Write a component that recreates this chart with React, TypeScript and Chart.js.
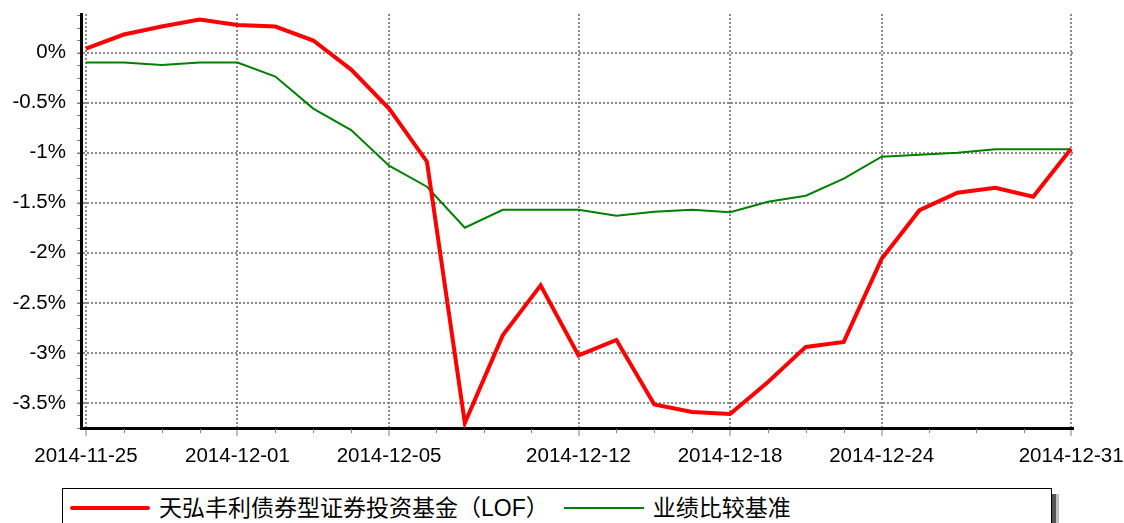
import React, { useEffect, useLayoutEffect, useRef } from 'react';
import { Chart, registerables } from 'chart.js';

Chart.register(...registerables);

// ---- data ----
const DATES = [
  '2014-11-25', '2014-11-26', '2014-11-27', '2014-11-28', '2014-12-01',
  '2014-12-02', '2014-12-03', '2014-12-04', '2014-12-05', '2014-12-08',
  '2014-12-09', '2014-12-10', '2014-12-11', '2014-12-12', '2014-12-15',
  '2014-12-16', '2014-12-17', '2014-12-18', '2014-12-19', '2014-12-22',
  '2014-12-23', '2014-12-24', '2014-12-25', '2014-12-26', '2014-12-29',
  '2014-12-30', '2014-12-31',
];
const X_TICK_LABELS = ['2014-11-25', '2014-12-01', '2014-12-05', '2014-12-12', '2014-12-18', '2014-12-24', '2014-12-31'];
const FUND_NAME = '天弘丰利债券型证券投资基金（LOF）';
const BENCH_NAME = '业绩比较基准';
const FUND = [
  0.04, 0.18, 0.26, 0.33, 0.275, 0.26, 0.12, -0.17, -0.56, -1.09,
  -3.7, -2.825, -2.325, -3.025, -2.87, -3.515, -3.59, -3.61, -3.29, -2.94,
  -2.89, -2.06, -1.575, -1.4, -1.35, -1.44, -0.96,
];
const BENCH = [
  -0.1, -0.1, -0.125, -0.1, -0.1, -0.24, -0.56, -0.775, -1.13, -1.34,
  -1.75, -1.57, -1.57, -1.57, -1.63, -1.59, -1.57, -1.595, -1.49, -1.43,
  -1.26, -1.04, -1.02, -1.0, -0.965, -0.965, -0.965,
];
const Y_TICKS = [-3.5, -3, -2.5, -2, -1.5, -1, -0.5, 0];
const Y_MIN = -3.75;
const Y_MAX = 0.385;
const Y_MINOR_STEP = 0.125;

const FUND_COLOR = '#ff0000';
const BENCH_COLOR = '#008000';
const GRID_COLOR = '#8a8a8a';
const TICK_COLOR = '#808080';
const FONT = '"Liberation Sans", Arial, "Noto Sans CJK SC", sans-serif';

const minorTicksPlugin = {
  id: 'minorTicks',
  afterDraw(chart: any) {
    const { ctx, chartArea, scales } = chart;
    const xs = scales.x;
    const ys = scales.y;
    ctx.save();
    ctx.strokeStyle = TICK_COLOR;
    ctx.lineWidth = 1;
    ctx.beginPath();
    const major = xs.ticks.map((t: any) => t.value);
    for (let i = 0; i < major.length - 1; i++) {
      for (let k = 1; k < 4; k++) {
        const px = Math.round(xs.getPixelForValue(major[i] + ((major[i + 1] - major[i]) * k) / 4)) + 0.5;
        ctx.moveTo(px, chartArea.bottom + 1);
        ctx.lineTo(px, chartArea.bottom + 5);
      }
    }
    const n = Math.floor((Y_MAX - Y_MIN) / Y_MINOR_STEP + 1e-6);
    for (let k = 0; k <= n; k++) {
      const py = Math.round(ys.getPixelForValue(Y_MIN + k * Y_MINOR_STEP)) + 0.5;
      ctx.moveTo(chartArea.left - 4, py);
      ctx.lineTo(chartArea.left - 1, py);
    }
    ctx.stroke();
    ctx.restore();
  },
};

export default function App() {
  const canvasRef = useRef<HTMLCanvasElement | null>(null);

  useLayoutEffect(() => {
    document.body.style.margin = '0';
    document.body.style.overflow = 'hidden';
    document.documentElement.style.overflow = 'hidden';
  }, []);

  useEffect(() => {
    const canvas = canvasRef.current;
    if (!canvas) return;
    const chart = new Chart(canvas, {
      type: 'line',
      data: {
        datasets: [
          {
            label: FUND_NAME,
            data: FUND.map((v, i) => ({ x: i, y: v })),
            borderColor: FUND_COLOR,
            backgroundColor: FUND_COLOR,
            borderWidth: 4,
            pointRadius: 0,
            tension: 0,
          },
          {
            label: BENCH_NAME,
            data: BENCH.map((v, i) => ({ x: i, y: v })),
            borderColor: BENCH_COLOR,
            backgroundColor: BENCH_COLOR,
            borderWidth: 2,
            pointRadius: 0,
            tension: 0,
          },
        ],
      },
      options: {
        responsive: false,
        animation: false,
        devicePixelRatio: 1,
        layout: { padding: { top: 14, right: 51, left: 0, bottom: 0 } },
        plugins: {
          legend: { display: false },
          tooltip: { enabled: false },
        },
        scales: {
          x: {
            type: 'linear',
            min: -0.13,
            max: 26.05,
            afterBuildTicks: (scale: any) => {
              scale.ticks = X_TICK_LABELS.map((l) => ({ value: DATES.indexOf(l) }));
            },
            afterFit: (scale: any) => {
              scale.height = 58;
              scale.paddingLeft = 0;
              scale.paddingRight = 0;
            },
            ticks: {
              autoSkip: false,
              maxRotation: 0,
              minRotation: 0,
              padding: 8,
              color: '#000',
              font: { family: FONT, size: 20.5 },
              callback: (v: any) => DATES[v as number],
            },
            grid: {
              color: GRID_COLOR,
              lineWidth: 2,
              tickLength: 8,
              tickColor: TICK_COLOR,
              tickWidth: 1,
            },
            border: { display: true, color: '#000', width: 3, dash: [2, 2] },
          },
          y: {
            type: 'linear',
            min: Y_MIN,
            max: Y_MAX,
            afterBuildTicks: (scale: any) => {
              scale.ticks = Y_TICKS.map((v) => ({ value: v }));
            },
            afterFit: (scale: any) => {
              scale.width = 81;
              scale.paddingTop = 0;
              scale.paddingBottom = 0;
            },
            ticks: {
              padding: 11,
              color: '#000',
              font: { family: FONT, size: 20.5 },
              callback: (v: any) => `${v}%`,
            },
            grid: {
              color: GRID_COLOR,
              lineWidth: 2,
              tickLength: 4,
              tickColor: TICK_COLOR,
              tickWidth: 1,
            },
            border: { display: true, color: '#000', width: 3, dash: [2, 2] },
          },
        },
      },
      plugins: [minorTicksPlugin],
    } as any);
    return () => chart.destroy();
  }, []);

  const legendItems = [
    { name: FUND_NAME, color: FUND_COLOR, width: 4 },
    { name: BENCH_NAME, color: BENCH_COLOR, width: 2 },
  ];

  return (
    <div style={{ position: 'relative', width: 1124, height: 523, overflow: 'hidden', background: '#fff' }}>
      <canvas
        ref={canvasRef}
        width={1124}
        height={486}
        style={{ position: 'absolute', left: 0, top: 0, width: 1124, height: 486 }}
      />
      <div
        style={{
          position: 'absolute',
          left: 62,
          top: 488,
          width: 990,
          height: 60,
          boxSizing: 'border-box',
          border: '1.5px solid #000',
          background: '#fff',
          boxShadow: '4px 6px 0 0 #555, 7px 6px 0 0 #c0c0c0',
          display: 'flex',
          alignItems: 'flex-start',
          paddingLeft: 7,
          paddingTop: 5,
          fontFamily: '"Liberation Sans", "Noto Sans CJK TC", "Noto Sans CJK SC", sans-serif',
          fontSize: 23,
          color: '#000',
          textSpacingTrim: 'space-all',
        } as any}
      >
        {legendItems.map((it, i) => (
          <div key={i} style={{ display: 'flex', alignItems: 'center', height: 28, marginRight: 15 }}>
            <div style={{ width: 80, height: it.width, background: it.color, borderRadius: it.width > 2 ? 2 : 0 }} />
            <span style={{ marginLeft: 9, lineHeight: '28px', whiteSpace: 'nowrap' }}>{it.name}</span>
          </div>
        ))}
      </div>
    </div>
  );
}
